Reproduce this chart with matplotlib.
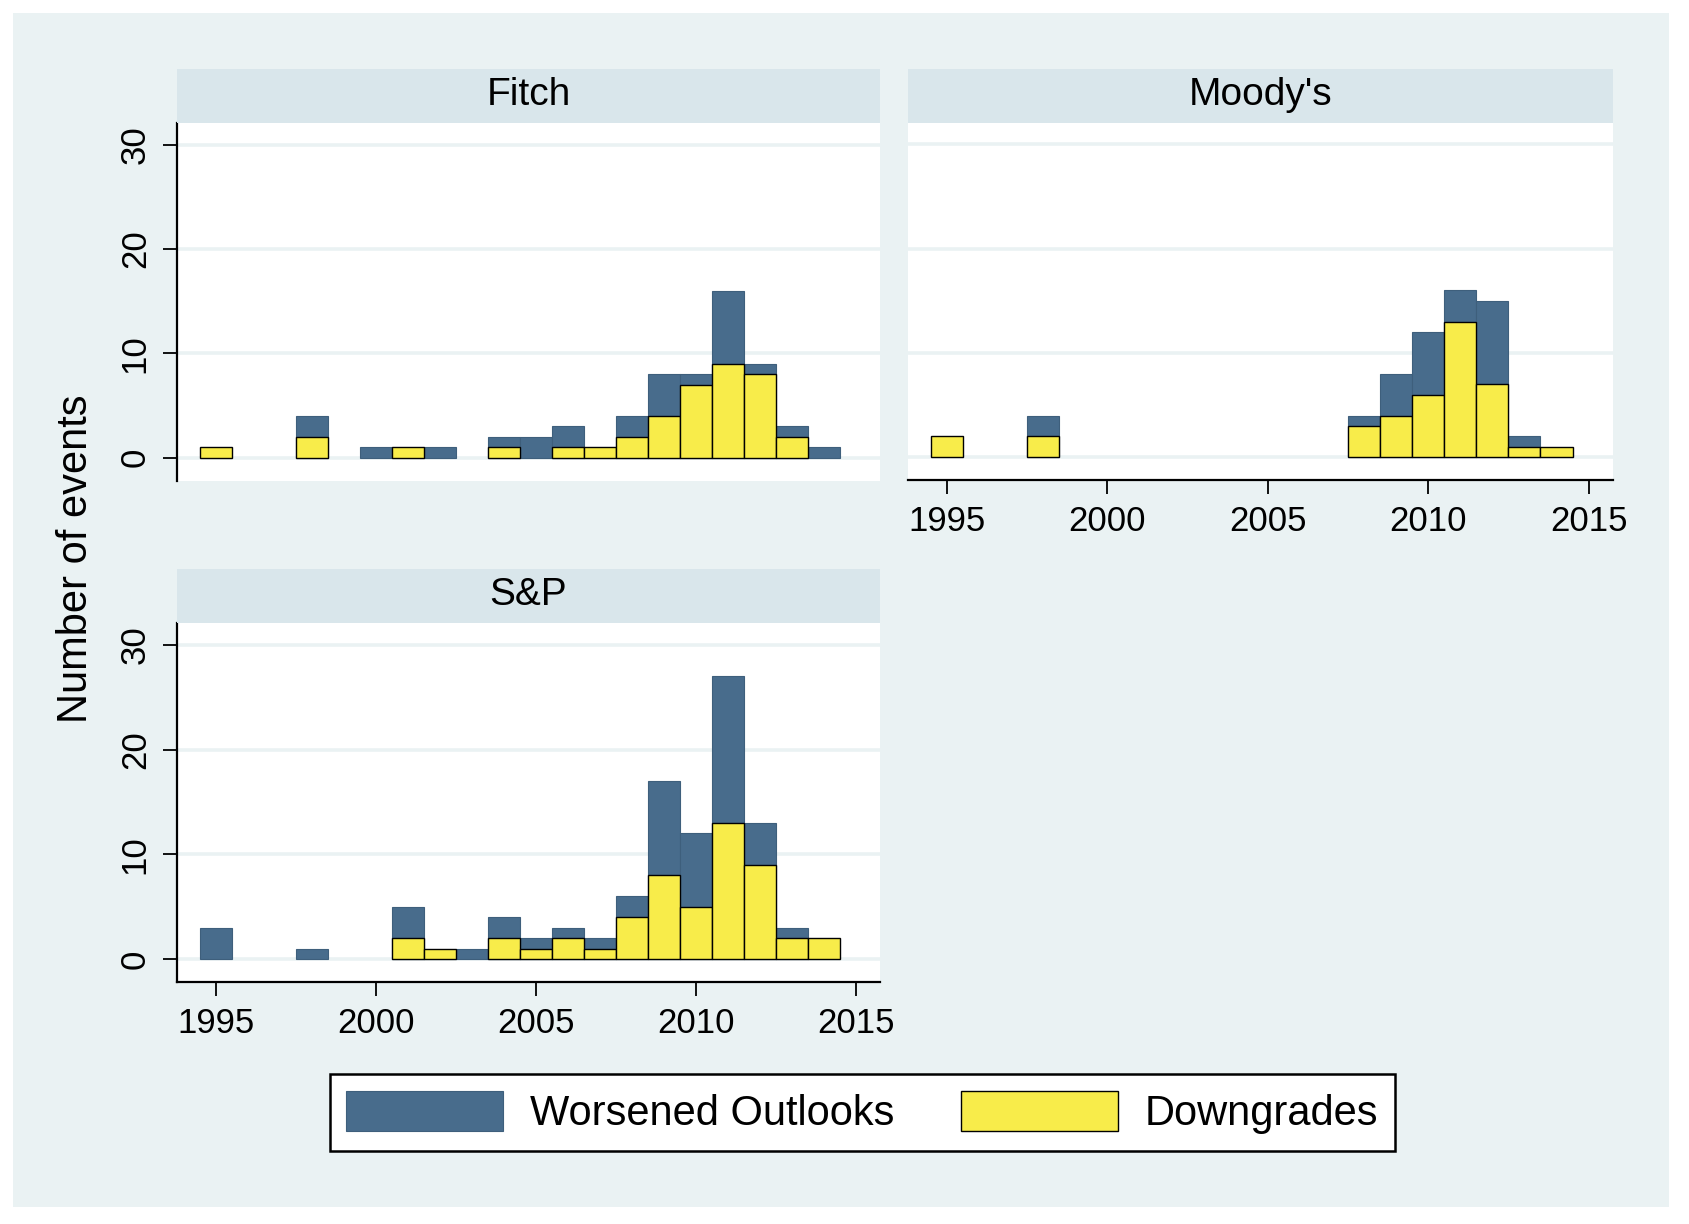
import matplotlib
matplotlib.use("Agg")
import matplotlib.pyplot as plt
from matplotlib.patches import Patch
import numpy as np

plt.rcParams['font.family'] = ['Liberation Sans', 'DejaVu Sans']

years = list(range(1995, 2015))

# values per year 1995..2014
fitch_outlooks = [0, 0, 0, 4, 0, 1, 0, 1, 0, 2, 2, 3, 0, 4, 8, 8, 16, 9, 3, 1]
fitch_downgrades = [1, 0, 0, 2, 0, 0, 1, 0, 0, 1, 0, 1, 1, 2, 4, 7, 9, 8, 2, 0]
moodys_outlooks = [0, 0, 0, 4, 0, 0, 0, 0, 0, 0, 0, 0, 0, 4, 8, 12, 16, 15, 2, 0]
moodys_downgrades = [2, 0, 0, 2, 0, 0, 0, 0, 0, 0, 0, 0, 0, 3, 4, 6, 13, 7, 1, 1]
sp_outlooks = [3, 0, 0, 1, 0, 0, 5, 0, 1, 4, 2, 3, 2, 6, 17, 12, 27, 13, 3, 0]
sp_downgrades = [0, 0, 0, 0, 0, 0, 2, 1, 0, 2, 1, 2, 1, 4, 8, 5, 13, 9, 2, 2]

panel_titles = ["Fitch", "Moody's", "S&P"]
xticks = [1995, 2000, 2005, 2010, 2015]
yticks = [0, 10, 20, 30]
legend_labels = ["Worsened Outlooks", "Downgrades"]

BG = '#EAF2F3'
STRIP = '#D9E6EB'
BLUE = '#486C8C'
BLUE_EDGE = '#3E5F7C'
YELLOW = '#F8EC4A'

W, H = 1690, 1224
fig = plt.figure(figsize=(W / 100, H / 100), dpi=100, facecolor='white')

# light graph region with white margin
bgax = fig.add_axes([13.3 / W, 17 / H, (1669 - 13.3) / W, (1224 - 13.3 - 17) / H], zorder=-10)
bgax.set_facecolor(BG)
bgax.set_xticks([])
bgax.set_yticks([])
for s in bgax.spines.values():
    s.set_visible(False)

panels = [
    (panel_titles[0], fitch_outlooks, fitch_downgrades, [0.1046, 0.6073, 0.4163, 0.2920], True, False),
    (panel_titles[1], moodys_outlooks, moodys_downgrades, [0.5373, 0.6076, 0.4173, 0.2920], False, True),
    (panel_titles[2], sp_outlooks, sp_downgrades, [0.1046, 0.1975, 0.4163, 0.2933], True, True),
]

strip_h = 54 / H
for title, outl, down, rect, show_y, show_x in panels:
    ax = fig.add_axes(rect)
    ax.set_facecolor('white')
    yrs = np.array(years)
    o = np.array(outl)
    d = np.array(down)
    mo = o > 0
    md = d > 0
    ax.bar(yrs[mo], o[mo], width=1.0, color=BLUE, edgecolor=BLUE_EDGE, linewidth=0.8, zorder=3)
    ax.bar(yrs[md], d[md], width=1.0, color=YELLOW, edgecolor='black', linewidth=1.0, zorder=4)
    ax.set_xlim(1993.79, 2015.77)
    ax.set_ylim(-2.2, 32.05)
    ax.set_yticks(yticks)
    ax.set_xticks(xticks)
    ax.set_axisbelow(True)
    ax.yaxis.grid(True, color=BG, linewidth=2.6, zorder=1)
    ax.xaxis.grid(False)
    for s in ['top', 'right']:
        ax.spines[s].set_visible(False)
    ax.spines['left'].set_visible(show_y)
    ax.spines['bottom'].set_visible(show_x)
    ax.spines['left'].set_linewidth(1.6)
    ax.spines['bottom'].set_linewidth(1.6)
    ax.tick_params(axis='y', left=show_y, labelleft=show_y, length=10, width=1.3, pad=8, labelsize=25)
    ax.tick_params(axis='x', bottom=show_x, labelbottom=show_x, length=10, width=1.3, pad=8, labelsize=25)
    for lab in ax.get_yticklabels():
        lab.set_rotation(90)
        lab.set_va('center')
    # strip title
    sax = fig.add_axes([rect[0], rect[1] + rect[3], rect[2], strip_h])
    sax.set_facecolor(STRIP)
    sax.set_xticks([])
    sax.set_yticks([])
    for s in sax.spines.values():
        s.set_visible(False)
    sax.text(0.5, 0.52, title, ha='center', va='center', fontsize=28, transform=sax.transAxes)

fig.text(0.045, 0.5433, "Number of events", rotation=90, ha='center', va='center', fontsize=30)

handles = [Patch(facecolor=BLUE, edgecolor=BLUE_EDGE, linewidth=0.8),
           Patch(facecolor=YELLOW, edgecolor='black', linewidth=1.0)]
leg = fig.legend(handles, legend_labels, loc='center', bbox_to_anchor=(0.5103, 0.0911),
                 ncol=2, fontsize=30, frameon=True, fancybox=False, edgecolor='black',
                 framealpha=1.0, handlelength=3.77, handleheight=1.12, handletextpad=0.64,
                 columnspacing=1.6, borderpad=0.4)
leg.get_frame().set_linewidth(1.8)

fig.savefig('out.png', dpi=100, facecolor='white')
